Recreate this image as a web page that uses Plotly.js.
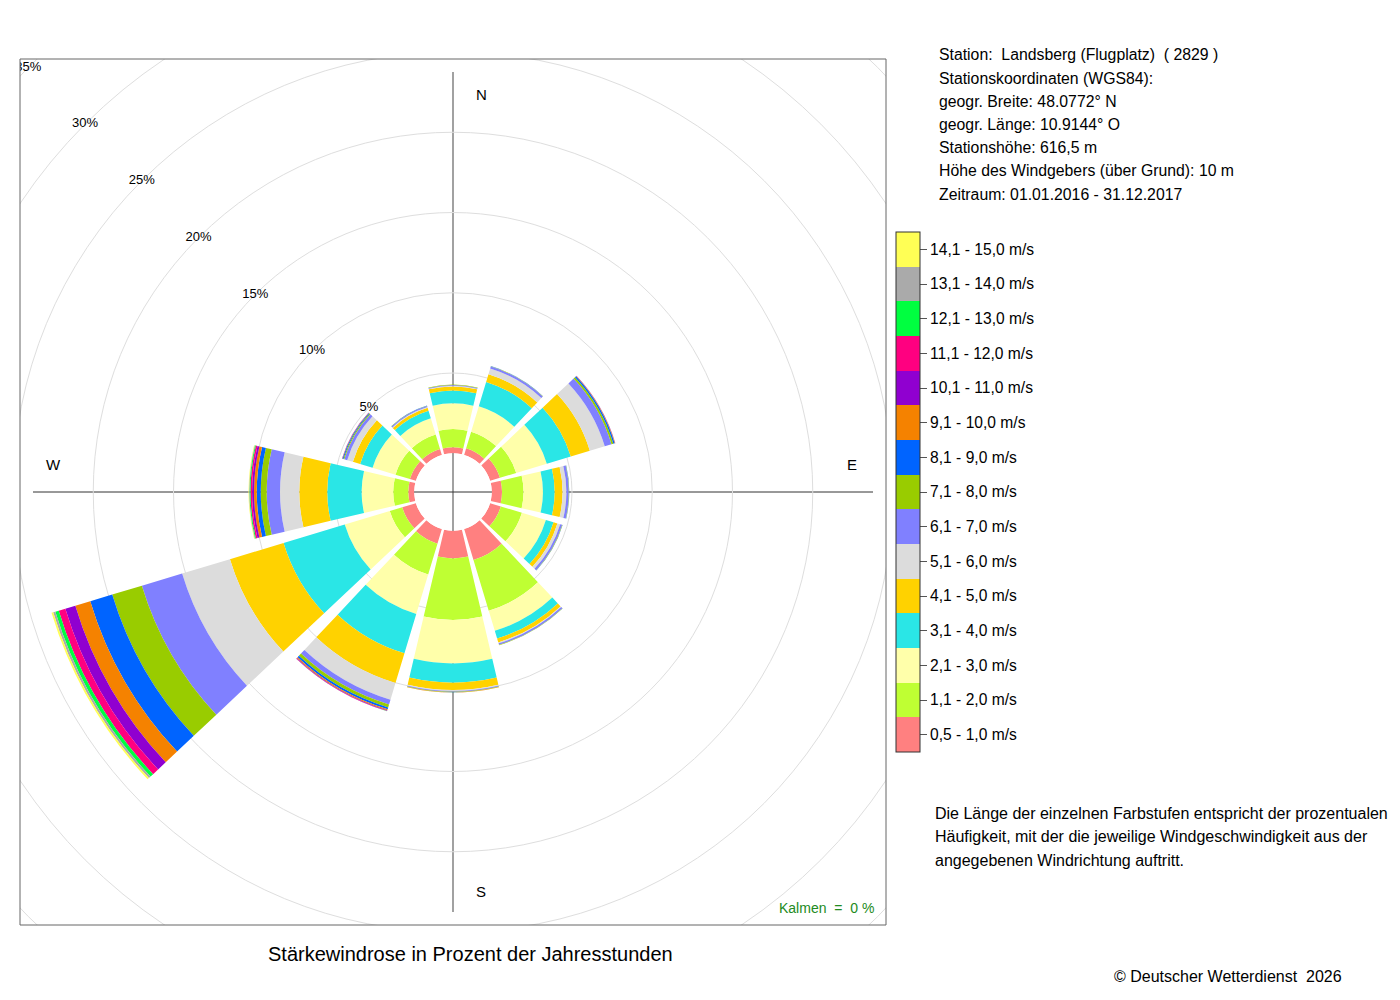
<!DOCTYPE html>
<html><head><meta charset="utf-8">
<script src="https://cdn.plot.ly/plotly-3.0.1.min.js"></script>
<style>
html,body{margin:0;padding:0;overflow:hidden;background:#fff;}
#frame{position:relative;width:1400px;height:1000px;overflow:hidden;background:#fff;}
#chart{position:absolute;left:-170px;top:-130px;width:1570px;height:1240px;}
</style></head>
<body><div id="frame"><div id="chart"></div></div>
<script>
// ---- data ----
const directions = [0, 30, 60, 90, 120, 150, 180, 210, 240, 270, 300, 330];
const speedClasses = ['0,5 - 1,0 m/s','1,1 - 2,0 m/s','2,1 - 3,0 m/s','3,1 - 4,0 m/s','4,1 - 5,0 m/s',
  '5,1 - 6,0 m/s','6,1 - 7,0 m/s','7,1 - 8,0 m/s','8,1 - 9,0 m/s','9,1 - 10,0 m/s',
  '10,1 - 11,0 m/s','11,1 - 12,0 m/s','12,1 - 13,0 m/s','13,1 - 14,0 m/s','14,1 - 15,0 m/s'];
const classColors = ['#FF8080','#BFFF33','#FFFFAA','#2AE6E6','#FFD200','#DCDCDC','#8080FF','#99CC00',
  '#0064FF','#F58200','#9000D0','#FF0080','#00FF40','#AAAAAA','#FFFF55'];
const s05_10  = [0.37,0.43,0.64,0.64,0.70,2.01,1.72,0.95,0.89,0.37,0.39,0.39];
const s11_20  = [1.14,1.08,1.06,1.34,1.37,3.30,3.84,2.00,0.81,0.94,0.94,0.94];
const s21_30  = [1.60,1.65,1.99,1.21,1.56,1.31,2.70,2.58,2.93,1.97,1.49,1.05];
const s31_40  = [0.80,1.59,1.56,0.73,0.50,0.50,1.20,2.55,3.98,2.14,0.81,0.50];
const s41_50  = [0.25,0.50,1.24,0.49,0.25,0.25,0.46,1.94,3.49,1.74,0.47,0.19];
const s51_60  = [0.04,0.37,0.97,0.24,0.18,0.06,0.06,1.08,3.11,1.20,0.37,0.04];
const s61_70  = [0.05,0.13,0.44,0.15,0.13,0.10,0.05,0.31,2.62,0.83,0.19,0.07];
const s71_80  = [0.03,0.02,0.12,0.02,0.02,0.02,0.03,0.19,1.93,0.37,0.06,0.02];
const s81_90  = [0.00,0.01,0.09,0.01,0.01,0.01,0.01,0.12,1.43,0.25,0.06,0.01];
const s91_100 = [0.00,0.00,0.03,0.00,0.00,0.00,0.01,0.07,0.97,0.17,0.02,0.00];
const s101_110= [0.00,0.00,0.01,0.00,0.00,0.00,0.00,0.03,0.65,0.12,0.01,0.00];
const s111_120= [0.00,0.00,0.00,0.00,0.00,0.00,0.00,0.02,0.43,0.10,0.00,0.00];
const s121_130= [0.00,0.00,0.00,0.00,0.00,0.00,0.00,0.01,0.22,0.06,0.00,0.00];
const s131_140= [0.00,0.00,0.00,0.00,0.00,0.00,0.00,0.00,0.14,0.03,0.00,0.00];
const s141_150= [0.00,0.00,0.00,0.00,0.00,0.00,0.00,0.00,0.11,0.03,0.00,0.00];
const radialTicks = [5, 10, 15, 20, 25, 30, 35];
const radialTickText = ['5%', '10%', '15%', '20%', '25%', '30%', '35%'];
const radialLabelBearing = 315;
const compassLabels = ['N', 'E', 'S', 'W'];
const stationLines = [
  'Station:  Landsberg (Flugplatz)  ( 2829 )',
  'Stationskoordinaten (WGS84):',
  'geogr. Breite: 48.0772° N',
  'geogr. Länge: 10.9144° O',
  'Stationshöhe: 616,5 m',
  'Höhe des Windgebers (über Grund): 10 m',
  'Zeitraum: 01.01.2016 - 31.12.2017'];
const noteLines = [
  'Die Länge der einzelnen Farbstufen entspricht der prozentualen',
  'Häufigkeit, mit der die jeweilige Windgeschwindigkeit aus der',
  'angegebenen Windrichtung auftritt.'];
const chartTitle = 'Stärkewindrose in Prozent der Jahresstunden';
const calmText = 'Kalmen  =  0 %';
const copyright = '© Deutscher Wetterdienst  2026';

const classValues = [s05_10,s11_20,s21_30,s31_40,s41_50,s51_60,s61_70,s71_80,s81_90,s91_100,
  s101_110,s111_120,s121_130,s131_140,s141_150];

// ---- geometry (page pixels) ----
const OX = 170, OY = 130, W = 1570, H = 1240;
const fx = x => (x + OX) / W;
const fy = y => 1 - (y + OY) / H;
const CX = 453, CY = 492;             // rose centre
const HOLE_PX = 38.75, PX_PER_PCT = 16.05, RMAX = 36;
const R = HOLE_PX + RMAX * PX_PER_PCT;
const BOX = {x0: 20, y0: 59, x1: 886, y1: 925};
const ARM = 420;
const FONT = 'Liberation Sans, Arial, Helvetica, sans-serif';

const traces = classValues.map((vals, k) => ({
  type: 'barpolar', r: vals, theta: directions, width: 26.5,
  name: speedClasses[k], showlegend: false, hoverinfo: 'skip',
  marker: {color: directions.map(() => k + 1), coloraxis: 'coloraxis', line: {width: 0}}
}));
// radial tick labels, placed on the grid circles along the NW diagonal
traces.push({
  type: 'scatterpolar', mode: 'text', r: radialTicks, theta: radialTicks.map(() => radialLabelBearing),
  text: radialTickText, textposition: 'middle center', cliponaxis: false,
  textfont: {family: FONT, size: 13, color: '#000'}, showlegend: false, hoverinfo: 'skip'
});

const n = classColors.length;
const colorscale = [];
classColors.forEach((c, i) => { colorscale.push([i / n, c]); colorscale.push([(i + 1) / n, c]); });

const shapes = [
  {type:'line', xref:'paper', yref:'paper', layer:'below', x0:fx(CX), x1:fx(CX), y0:fy(CY-ARM), y1:fy(CY+ARM), line:{color:'#8a8a8a', width:1.6}},
  {type:'line', xref:'paper', yref:'paper', layer:'below', x0:fx(CX-ARM), x1:fx(CX+ARM), y0:fy(CY), y1:fy(CY), line:{color:'#333', width:1}},
  // mask outside the frame
  {type:'rect', xref:'paper', yref:'paper', layer:'above', x0:0, x1:fx(BOX.x0), y0:0, y1:1, fillcolor:'#fff', line:{width:0}},
  {type:'rect', xref:'paper', yref:'paper', layer:'above', x0:fx(BOX.x1), x1:1, y0:0, y1:1, fillcolor:'#fff', line:{width:0}},
  {type:'rect', xref:'paper', yref:'paper', layer:'above', x0:0, x1:1, y0:fy(BOX.y0), y1:1, fillcolor:'#fff', line:{width:0}},
  {type:'rect', xref:'paper', yref:'paper', layer:'above', x0:0, x1:1, y0:0, y1:fy(BOX.y1), fillcolor:'#fff', line:{width:0}},
  {type:'rect', xref:'paper', yref:'paper', layer:'above', x0:fx(BOX.x0), x1:fx(BOX.x1), y0:fy(BOX.y1), y1:fy(BOX.y0), line:{color:'#666', width:1}}
];

const ann = (text, x, y, xanchor, size, color) => ({text, x: fx(x), y: fy(y), xref:'paper', yref:'paper',
  xanchor, yanchor:'middle', showarrow:false, font:{family:FONT, size, color: color || '#000'}});
const annotations = [];
const compassPos = [[481, 94], [852, 464], [481, 891], [53, 464]];
compassLabels.forEach((t, i) => annotations.push(ann(t, compassPos[i][0], compassPos[i][1], 'center', 15)));
stationLines.forEach((t, i) => annotations.push(ann(t, 937, 55 + i * 23.2, 'left', 15.8)));
noteLines.forEach((t, i) => annotations.push(ann(t, 933, 814 + i * 23, 'left', 16)));
annotations.push(ann(chartTitle, 470, 954, 'center', 20));
annotations.push(ann(calmText, 876, 908, 'right', 14, '#228B22'));
annotations.push(ann(copyright, 1344, 976, 'right', 16));

const layout = {
  width: W, height: H, margin: {l:0, r:0, t:0, b:0},
  paper_bgcolor: '#fff', font: {family: FONT, color: '#000'},
  showlegend: false,
  polar: {
    domain: {x: [fx(CX - R), fx(CX + R)], y: [fy(CY + R), fy(CY - R)]},
    hole: HOLE_PX / R, bgcolor: 'rgba(0,0,0,0)', barmode: 'stack',
    radialaxis: {range: [0, RMAX], tickmode: 'array', tickvals: radialTicks,
      angle: 135, showline: false, ticks: '', gridcolor: '#dedede', gridwidth: 1,
      showticklabels: false},
    angularaxis: {rotation: 90, direction: 'clockwise', showgrid: false, showline: false,
      showticklabels: false, ticks: ''}
  },
  coloraxis: {cmin: 0.5, cmax: n + 0.5, colorscale,
    colorbar: {x: fx(896), xanchor: 'left', xref: 'paper', y: fy(492), yanchor: 'middle', yref: 'paper',
      thickness: 24, thicknessmode: 'pixels', len: 520, lenmode: 'pixels', xpad: 0, ypad: 0,
      outlinewidth: 1, outlinecolor: '#333', tickmode: 'array',
      tickvals: speedClasses.map((_, i) => i + 1), ticktext: speedClasses, tickprefix: '\u00a0',
      ticks: 'outside', ticklen: 7, tickwidth: 1, tickcolor: '#555',
      tickfont: {size: 15.6, color: '#000', family: FONT}}},
  shapes, annotations
};
Plotly.newPlot('chart', traces, layout, {displayModeBar: false, staticPlot: true});
</script></body></html>
